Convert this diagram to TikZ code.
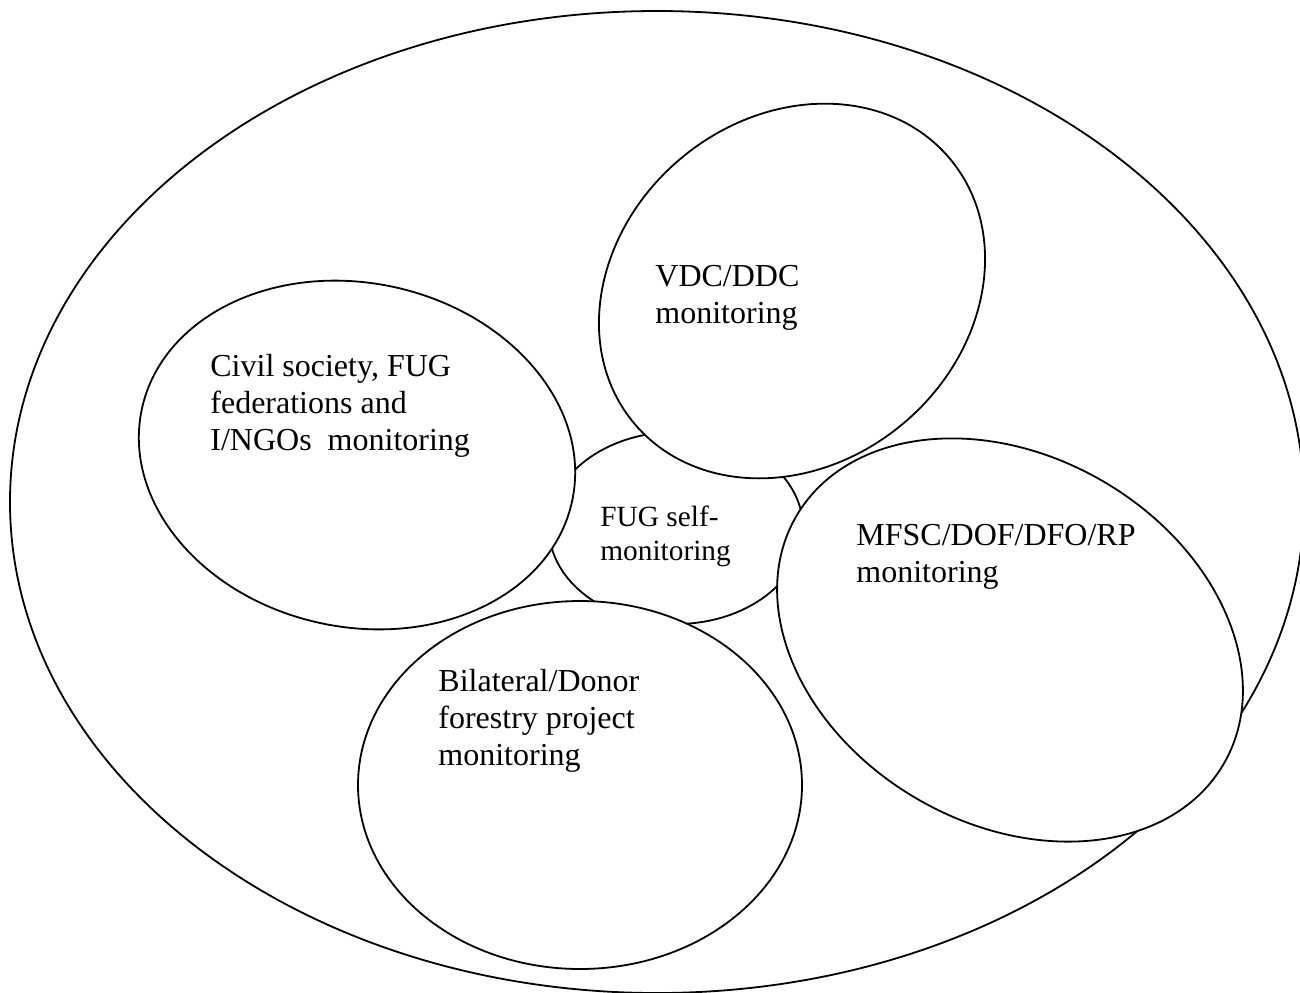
\documentclass[tikz,border=0pt]{standalone}
\usepackage{fontspec}
\setmainfont{Liberation Serif}

\begin{document}
\begin{tikzpicture}[x=0.5pt, y=-0.5pt,
    bubble/.style={draw, line width=0.9pt, fill=white},
    txt/.style={anchor=base west, inner sep=0pt, align=left, font=\fontsize{16}{18.4}\selectfont}]
    \clip (0,0) rectangle (1300,992);

    % outer ring
    \draw[bubble] (657,502) ellipse [x radius=647, y radius=491];
    % centre one first, the others lie over it
    \draw[bubble] (676,528) ellipse [x radius=127, y radius=96];
    \draw[bubble, rotate around={-12:(357,455)}] (357,455) ellipse [x radius=220, y radius=172];
    \draw[bubble, rotate around={40:(792,291)}] (792,291) ellipse [x radius=206, y radius=173];
    \draw[bubble] (580,785) ellipse [x radius=222, y radius=184];
    \draw[bubble, rotate around={-30:(1010,640)}] (1010,640) ellipse [x radius=247, y radius=184];

    % base = last line
    \node (civil) [txt] at (210,450) {Civil society, FUG\\federations and\\I/NGOs\ \ monitoring};
    \node (vdc) [txt] at (655,323) {VDC/DDC\\monitoring};
    \node (fug) [txt, font=\fontsize{14.67}{16.9}\selectfont] at (600,560) {FUG self-\\monitoring};
    \node (mfsc) [txt] at (856,582) {MFSC/DOF/DFO/RP\\monitoring};
    \node (donor) [txt] at (438,765) {Bilateral/Donor\\forestry project\\monitoring};
\end{tikzpicture}
\end{document}
